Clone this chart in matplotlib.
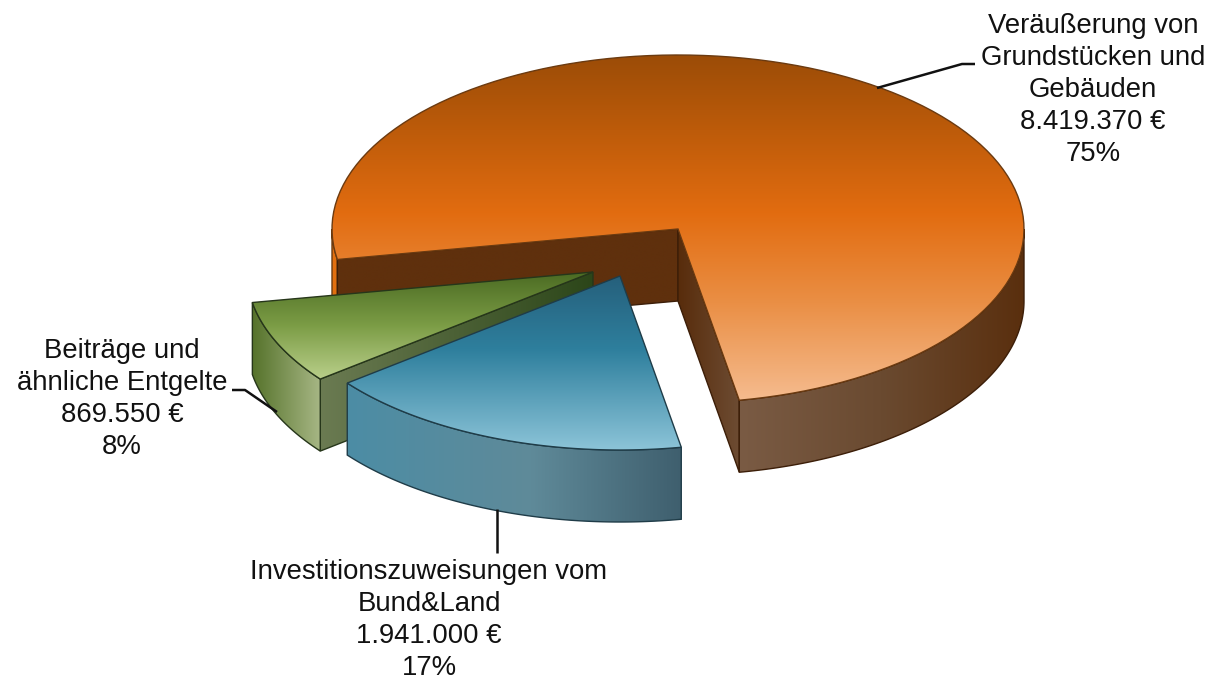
import matplotlib
matplotlib.use('Agg')
import matplotlib.pyplot as plt
import numpy as np
from matplotlib.colors import LinearSegmentedColormap
from matplotlib.patches import Polygon

plt.rcParams['font.family'] = ['Liberation Sans', 'DejaVu Sans']

# Chart data
names = ['Veräußerung von\nGrundstücken und\nGebäuden',
         'Beiträge und\nähnliche Entgelte',
         'Investitionszuweisungen vom\nBund&Land']
values = [8419370, 869550, 1941000]
percents = ['75%', '8%', '17%']

# Pie geometry in image pixels
CX, CY = 678, 229
RX, RY = 346, 174
DEPTH = 72
START = 280.2
offsets = [(0, 0), (-85, 43), (-58, 47)]

shares = np.array(values) / sum(values)
edges = START + np.concatenate([[0], np.cumsum(shares) * 360])

fig = plt.figure(figsize=(12.09, 6.79), dpi=100)
ax = fig.add_axes([0, 0, 1, 1])


def arc(cx, cy, a0, a1):
    t = np.radians(np.linspace(a0, a1, 120))
    return np.column_stack([cx + RX * np.cos(t), cy - RY * np.sin(t)])


def gradient(verts, stops, edge, horizontal=False, z=1):
    # fill a polygon with a linear gradient, clipped to its outline
    patch = Polygon(verts, closed=True, facecolor='none', edgecolor=edge, linewidth=1.0, zorder=z + 0.1)
    ax.add_patch(patch)
    cmap = LinearSegmentedColormap.from_list('g', stops)
    ramp = np.linspace(0, 1, 256)
    ramp = ramp.reshape(1, -1) if horizontal else ramp.reshape(-1, 1)
    x0, y0 = verts.min(axis=0)
    x1, y1 = verts.max(axis=0)
    im = ax.imshow(ramp, cmap=cmap, extent=(x0, x1, y1, y0), aspect='auto', origin='upper',
                   interpolation='bilinear', zorder=z)
    im.set_clip_path(patch)


def rim(cx, cy, a0, a1):
    top = arc(cx, cy, a0, a1)
    return np.vstack([top, (top + [0, DEPTH])[::-1]])


def wall(cx, cy, angle):
    corner = arc(cx, cy, angle, angle)[0]
    return np.array([[cx, cy], corner, corner + [0, DEPTH], [cx, cy + DEPTH]])


def top(cx, cy, a0, a1):
    return np.vstack([[cx, cy], arc(cx, cy, a0, a1)])


orange_top = [(0, '#9b4c07'), (0.22, '#bd5b0a'), (0.46, '#e26c10'), (0.72, '#ea8f45'), (1, '#f5bb8e')]
green_top = [(0, '#4a6a22'), (0.5, '#7b9c45'), (1, '#b9cf8a')]
blue_top = [(0, '#26607c'), (0.42, '#2e7f9d'), (1, '#8cc4d8')]

# Orange slice: 0 -> a1 runs counterclockwise round the back
a0, a1 = edges[0], edges[1]
cx, cy = CX + offsets[0][0], CY + offsets[0][1]
gradient(rim(cx, cy, 180, a1 - 360), [(0, '#e5700f'), (1, '#e07010')], '#6b3a10', z=1)
gradient(wall(cx, cy, a1 - 360), [(0, '#5f300d'), (1, '#5f300d')], '#3c1e08', z=2)
gradient(wall(cx, cy, a0), [(0, '#582c0b'), (1, '#6d4c33')], '#3c1e08', horizontal=True, z=3)
gradient(rim(cx, cy, a0, 360), [(0, '#7a5b44'), (0.5, '#6a4a30'), (1, '#5a2f0e')], '#3c1e08', horizontal=True, z=4)
gradient(top(cx, cy, a0, a1), orange_top, '#6b3a10', z=5)

# Green slice
a0, a1 = edges[1], edges[2]
cx, cy = CX + offsets[1][0], CY + offsets[1][1]
gradient(wall(cx, cy, a1), [(0, '#6b7b52'), (1, '#2c4619')], '#26361a', horizontal=True, z=6)
gradient(rim(cx, cy, a0, a1), [(0, '#55722a'), (1, '#a6b684')], '#26361a', horizontal=True, z=7)
gradient(top(cx, cy, a0, a1), green_top, '#26361a', z=8)

# Blue slice
a0, a1 = edges[2], edges[3]
cx, cy = CX + offsets[2][0], CY + offsets[2][1]
gradient(rim(cx, cy, a0, a1), [(0, '#4c8da5'), (0.55, '#5f8a99'), (1, '#3f5f6e')], '#1f3c48', horizontal=True, z=9)
gradient(top(cx, cy, a0, a1), blue_top, '#1f3c48', z=10)

# Labels and leader lines
label_pos = [(1093, 90), (122, 399), (429, 620)]
leaders = [([877, 962, 975], [88, 64, 64]), ([232, 245, 277], [390, 390, 412]), ([497, 497], [509, 553])]
for name, value, pct, pos, lead in zip(names, values, percents, label_pos, leaders):
    amount = f'{value:,}'.replace(',', '.') + ' €'
    ax.text(pos[0], pos[1], f'{name}\n{amount}\n{pct}', ha='center', va='center', fontsize=19.8,
            linespacing=1.3, color='#111111', zorder=20)
    ax.plot(lead[0], lead[1], color='#111111', linewidth=1.8, zorder=11, solid_capstyle='butt')

ax.set_xlim(0, 1209)
ax.set_ylim(679, 0)
ax.axis('off')

fig.savefig('out.png', dpi=100)
